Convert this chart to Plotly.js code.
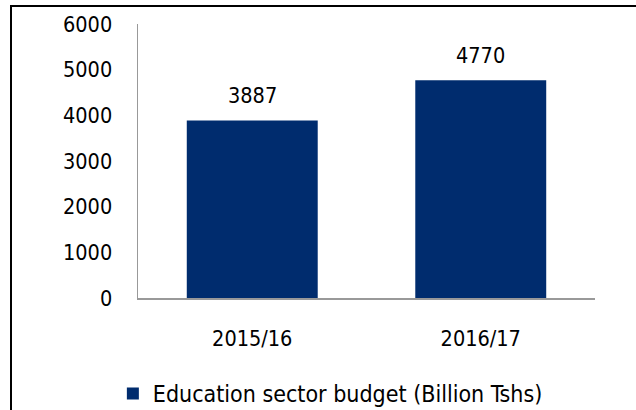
<!DOCTYPE html>
<html>
<head>
<meta charset="utf-8">
<script src="https://cdn.plot.ly/plotly-3.0.1.min.js"></script>
<style>
  html, body { margin: 0; padding: 0; background: #fff; }
  #wrap { position: relative; width: 636px; height: 410px; overflow: hidden; }
  #chart { position: absolute; left: 0; top: 0; width: 636px; height: 410px; }
  #frame { position: absolute; left: 10px; top: 5px; width: 640px; height: 420px;
           border: 2.5px solid #000; pointer-events: none; box-sizing: border-box; }
</style>
</head>
<body>
<div id="wrap">
  <div id="chart"></div>
  <div id="frame"></div>
</div>
<script>
const categories = ["2015/16", "2016/17"];
const budget = [3887, 4770];
const seriesName = "Education sector budget (Billion Tshs)";
const yTicks = [0, 1000, 2000, 3000, 4000, 5000, 6000];

const FONT = "DejaVu Sans Condensed, DejaVu Sans, sans-serif";
const FS = 21.5;
const FSL = 23;
const navy = "#002C6E";

const trace = {
  type: "bar",
  x: categories,
  y: budget,
  name: seriesName,
  marker: { color: navy },
  showlegend: true,
  hoverinfo: "none"
};

const annotations = categories.map((c, i) => ({
  x: c, y: budget[i], xref: "x", yref: "y",
  text: String(budget[i]), showarrow: false,
  yanchor: "bottom", yshift: 10,
  font: { family: FONT, size: FS, color: "#000" }
}));

const layout = {
  width: 636, height: 410,
  margin: { l: 138, r: 41, t: 24, b: 112, autoexpand: false },
  paper_bgcolor: "#fff", plot_bgcolor: "#fff",
  bargap: 0.427,
  font: { family: FONT, size: FS, color: "#000" },
  xaxis: {
    type: "category", automargin: false,
    showline: true, linecolor: "#999", linewidth: 1.5,
    showgrid: false, zeroline: false,
    ticks: "", ticklabelstandoff: 21,
    tickfont: { family: FONT, size: FS, color: "#000" }
  },
  yaxis: {
    range: [0, 6000], tickvals: yTicks, automargin: false,
    showline: true, linecolor: "#999", linewidth: 1.5,
    showgrid: false, zeroline: false,
    ticks: "", ticklabelstandoff: 20,
    tickfont: { family: FONT, size: FS, color: "#000" }
  },
  legend: {
    orientation: "h", x: -0.055, xanchor: "left", y: -0.27, yanchor: "top",
    font: { family: FONT, size: FSL, color: "#000" },
    bgcolor: "rgba(0,0,0,0)"
  },
  annotations: annotations
};

Plotly.newPlot("chart", [trace], layout, { staticPlot: true, displayModeBar: false });
</script>
</body>
</html>
